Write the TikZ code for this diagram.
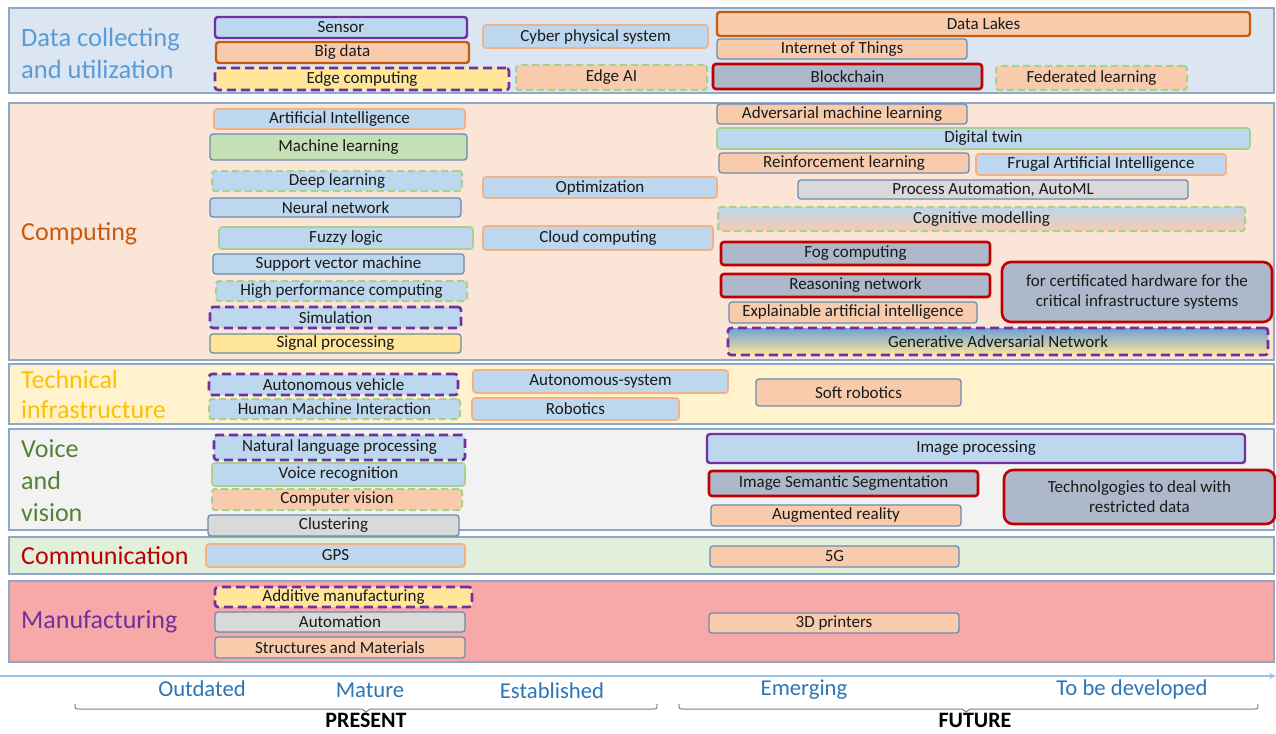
\documentclass[tikz,border=0pt]{standalone}
\usepackage{fontspec}
\setmainfont{Carlito}
\usetikzlibrary{arrows.meta}
\definecolor{fblue}{HTML}{BDD7EE}
\definecolor{fpeach}{HTML}{F8CBAD}
\definecolor{fgreen}{HTML}{C5E0B4}
\definecolor{fyellow}{HTML}{FFE699}
\definecolor{fgray}{HTML}{D9D9D9}
\definecolor{fslate}{HTML}{ADB9CA}
\definecolor{slateb}{HTML}{6A8CB0}
\definecolor{peachb}{HTML}{F4B183}
\definecolor{purp}{HTML}{7030A0}
\definecolor{orng}{HTML}{C55A11}
\definecolor{greenb}{HTML}{A9D18E}
\definecolor{redb}{HTML}{C00000}
\definecolor{bandb}{HTML}{8EA9C8}
\definecolor{txt}{HTML}{1A1A1A}
\definecolor{bg1}{HTML}{DCE6F2}
\definecolor{bg2}{HTML}{FBE5D6}
\definecolor{bg3}{HTML}{FFF2CC}
\definecolor{bg4}{HTML}{F2F2F2}
\definecolor{bg5}{HTML}{E2EFDA}
\definecolor{bg6}{HTML}{F7A8A8}
\definecolor{c1}{HTML}{5B9BD5}
\definecolor{c3}{HTML}{FFC000}
\definecolor{c4}{HTML}{548235}
\definecolor{axc}{HTML}{2E75B6}
\definecolor{axl}{HTML}{9DC3E6}
\definecolor{gblue}{HTML}{6FA0D6}
\tikzset{
 tb/.style={rounded corners=3pt, inner sep=0pt, outer sep=0pt, font=\fontsize{17}{20}\selectfont, text=txt, align=center},
 fB/.style={fill=fblue}, fP/.style={fill=fpeach}, fG/.style={fill=fgreen},
 fY/.style={fill=fyellow}, fGy/.style={fill=fgray}, fS/.style={fill=fslate},
 bSl/.style={draw=slateb, line width=1.3pt},
 bPe/.style={draw=peachb, line width=1.6pt},
 bPu/.style={draw=purp, line width=2.4pt},
 bPuD/.style={draw=purp, line width=2.6pt, dash pattern=on 9pt off 5pt},
 bOr/.style={draw=orng, line width=2.4pt},
 bGrD/.style={draw=greenb, line width=2pt, dash pattern=on 7pt off 4pt},
 bGr/.style={draw=greenb, line width=1.6pt},
 bRd/.style={draw=redb, line width=2.6pt},
 big/.style={rounded corners=9pt},
 band/.style={draw=bandb, line width=1.8pt},
 cat/.style={font=\fontsize{26.5}{32}\selectfont, anchor=west, align=left, inner sep=0pt},
 axlab/.style={font=\fontsize{22.7}{26}\selectfont, text=axc},
 brace/.style={draw=gray, line width=1pt},
 era/.style={font=\bfseries\fontsize{22}{24}\selectfont, text=black, anchor=base, inner sep=0pt},
}
\newcommand\bx[7]{\node[tb,#6,minimum width={(#4)-(#2)},minimum height={(#5)-(#3)}] (#1) at ({((#2)+(#4))/2},{((#3)+(#5))/2}) {#7};}
\begin{document}
\begin{tikzpicture}[x=1pt,y=-1pt]
\useasboundingbox (0,0) rectangle (1276,733);
\fill[white] (0,0) rectangle (1276,733);
% bands
\draw[band, fill=bg1] (9,8) rectangle (1274,93);
\draw[band, fill=bg2] (9,103) rectangle (1274,360);
\draw[band, fill=bg3] (9,364) rectangle (1274,424);
\draw[band, fill=bg4] (9,429) rectangle (1274,530);
\draw[band, fill=bg5] (9,537) rectangle (1274,574);
\draw[band, fill=bg6] (9,581) rectangle (1274,662);
% category labels
\node[cat, text=c1] (cat1) at (21,53) {Data collecting\\and utilization};
\node[cat, text=orng, font=\fontsize{26}{32}\selectfont] (cat2) at (21,234) {Computing};
\node[cat, text=c3, font=\fontsize{26}{30}\selectfont] (cat3) at (21,395) {Technical\\infrastructure};
\node[cat, text=c4, font=\fontsize{26}{32}\selectfont] (cat4) at (21,481) {Voice\\and\\vision};
\node[cat, text=redb, font=\fontsize{26}{32}\selectfont] (cat5) at (21,556) {Communication};
\node[cat, text=purp, font=\fontsize{26}{32}\selectfont] (cat6) at (21,622) {Manufacturing};
% Data collecting
\bx{sensor}{215}{17}{467}{38}{fB,bPu}{Sensor}
\bx{bigdata}{216}{42}{469}{63}{fP,bOr}{Big data}
\bx{edgec}{215}{68}{509}{90}{fY,bPuD}{Edge computing}
\bx{cps}{483}{25}{708}{48}{fB,bPe}{Cyber physical system}
\bx{edgeai}{516}{65}{707}{90}{fP,bGrD}{Edge AI}
\bx{lakes}{717}{12}{1250}{36}{fP,bOr}{Data Lakes}
\bx{iot}{717}{39}{967}{59}{fP,bSl}{Internet of Things}
\bx{block}{713}{64}{982}{89}{fS,bRd}{Blockchain}
\bx{fed}{996}{66}{1187}{90}{fP,bGrD}{Federated learning}
% Computing
\bx{ai}{214}{109}{465}{129}{fB,bPe}{Artificial Intelligence}
\bx{ml}{210}{134}{467}{160}{fG,bSl}{Machine learning}
\bx{dl}{212}{171}{462}{191}{fB,bGrD}{Deep learning}
\bx{nn}{210}{198}{461}{217}{fB,bSl}{Neural network}
\bx{fuzzy}{219}{227}{473}{249}{fB,bGr}{Fuzzy logic}
\bx{svm}{213}{254}{464}{274}{fB,bSl}{Support vector machine}
\bx{hpc}{216}{281}{467}{301}{fB,bGrD}{High performance computing}
\bx{sim}{210}{307}{461}{328}{fB,bPuD}{Simulation}
\bx{sig}{210}{334}{461}{353}{fY,bSl}{Signal processing}
\bx{opt}{483}{177}{717}{198}{fB,bPe}{Optimization}
\bx{cloud}{483}{226}{713}{250}{fB,bPe}{Cloud computing}
\bx{aml}{717}{104}{967}{124}{fP,bSl}{Adversarial machine learning}
\bx{dtwin}{717}{128}{1250}{149}{fB,bGr}{Digital twin}
\bx{rl}{719}{153}{969}{173}{fP,bSl}{Reinforcement learning}
\bx{frugal}{976}{154}{1226}{175}{fB,bPe}{Frugal Artificial Intelligence}
\bx{automl}{798}{180}{1188}{199}{fGy,bSl}{Process Automation, AutoML}
\bx{cog}{718}{207}{1245}{231}{top color=fblue,bottom color=fpeach,bGrD}{Cognitive modelling}
\bx{fog}{721}{242}{990}{265}{fS,bRd}{Fog computing}
\bx{reason}{721}{274}{990}{297}{fS,bRd}{Reasoning network}
\bx{xai}{729}{302}{977}{323}{fP,bSl}{Explainable artificial intelligence}
\bx{cert}{1002}{262}{1272}{322}{fS,bRd,big}{for certificated hardware for the\\critical infrastructure systems}
\bx{gan}{728}{328}{1268}{355}{top color=gblue,bottom color=fyellow,bPuD}{Generative Adversarial Network}
% Technical infrastructure
\bx{av}{209}{374}{458}{395}{fB,bPuD}{Autonomous vehicle}
\bx{hmi}{209}{399}{460}{419}{fB,bGrD}{Human Machine Interaction}
\bx{asys}{473}{370}{728}{393}{fB,bPe}{Autonomous-system}
\bx{robot}{472}{398}{679}{420}{fB,bPe}{Robotics}
\bx{soft}{756}{379}{961}{406}{fP,bSl}{Soft robotics}
% Voice and vision
\bx{nlp}{214}{435}{465}{460}{fB,bPuD}{Natural language processing}
\bx{voice}{212}{463}{465}{486}{fB,bGr}{Voice recognition}
\bx{cv}{212}{489}{462}{510}{fP,bGrD}{Computer vision}
\bx{clust}{208}{515}{459}{536}{fGy,bSl}{Clustering}
\bx{imgp}{707}{434}{1245}{463}{fB,bPu}{Image processing}
\bx{iss}{709}{471}{978}{496}{fS,bRd}{Image Semantic Segmentation}
\bx{ar}{711}{505}{961}{526}{fP,bSl}{Augmented reality}
\bx{restr}{1004}{470}{1275}{524}{fS,bRd,big}{Technolgogies to deal with\\restricted data}
% Communication
\bx{gps}{206}{544}{465}{567}{fB,bPe}{GPS}
\bx{fiveg}{710}{546}{959}{567}{fP,bSl}{5G}
% Manufacturing
\bx{addm}{215}{587}{472}{607}{fY,bPuD}{Additive manufacturing}
\bx{autom}{215}{612}{465}{632}{fGy,bSl}{Automation}
\bx{struct}{215}{637}{465}{658}{fP,bSl}{Structures and Materials}
\bx{printers}{709}{613}{959}{633}{fP,bSl}{3D printers}
% axis
\coordinate (axL) at (0,676);
\coordinate (axR) at (1276,676);
\draw[axl, line width=1.2pt, -{Stealth[length=7pt,width=6pt]}] (axL) -- (axR);
\node[axlab] (outd) at (202,689) {Outdated};
\node[axlab] (mat) at (370,690) {Mature};
\node[axlab] (est) at (552,691) {Established};
\node[axlab] (emer) at (804,690) {Emerging};
\node[axlab] (tbd) at (1132,689) {To be developed};
% braces
\draw[brace] (75,704) .. controls (75,709) .. (80,709) -- (362,709) -- (366,712) -- (370,709) -- (652,709) .. controls (657,709) .. (657,704);
\draw[brace] (679,704) .. controls (679,709) .. (684,709) -- (962,709) -- (966,712) -- (970,709) -- (1253,709) .. controls (1258,709) .. (1258,704);
\node[era] (present) at (366,727) {PRESENT};
\node[era] (future) at (975,727) {FUTURE};
\end{tikzpicture}
\end{document}
